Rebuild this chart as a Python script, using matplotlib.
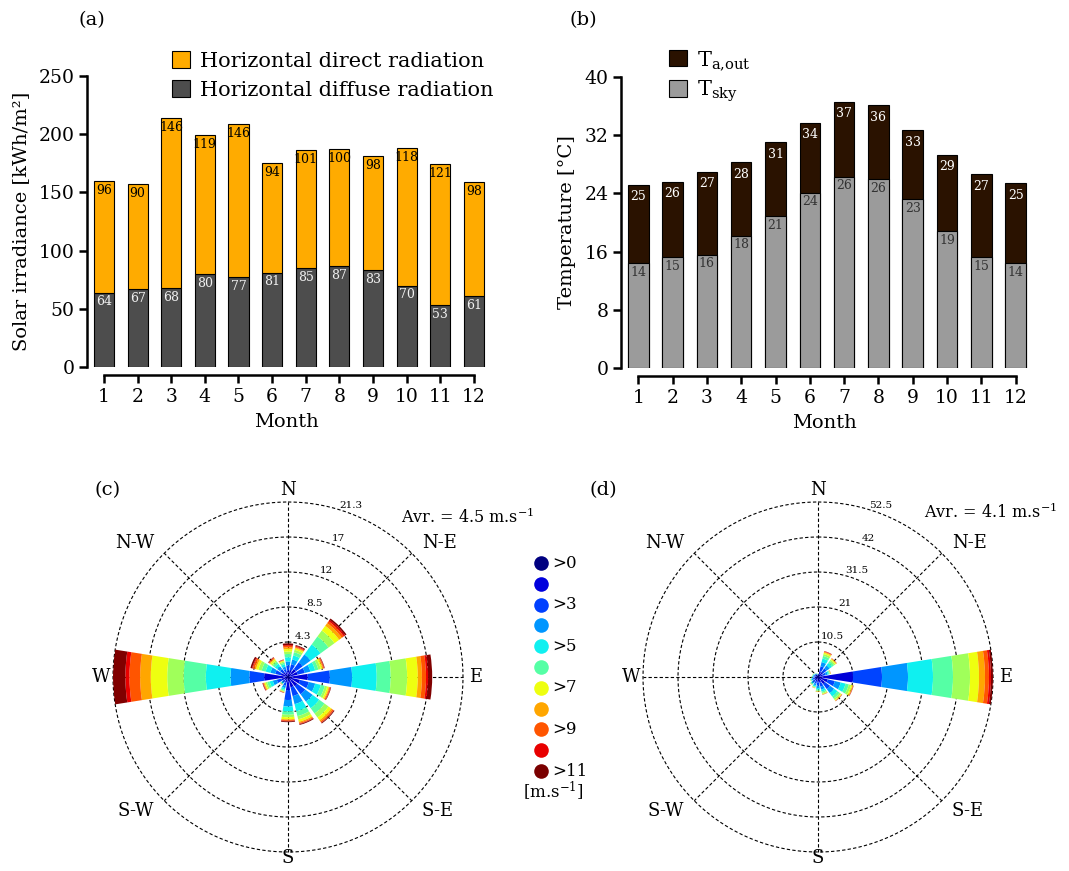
import numpy as np
import matplotlib
matplotlib.use('Agg')
import matplotlib.pyplot as plt

plt.rcParams['font.family'] = ['DejaVu Serif']
plt.rcParams['mathtext.fontset'] = 'dejavuserif'

# ---- data: (a) solar irradiance [kWh/m2] ----
months = np.arange(1, 13)
diffuse = [64, 67, 68, 80, 77, 81, 85, 87, 83, 70, 53, 61]
direct = [96, 90, 146, 119, 132, 94, 101, 100, 98, 118, 121, 98]
direct_labels = ['96', '90', '146', '119', '146', '94', '101', '100', '98', '118', '121', '98']

# ---- data: (b) temperatures [C] ----
t_out = [25.2, 25.6, 27.0, 28.3, 31.0, 33.7, 36.6, 36.1, 32.7, 29.3, 26.6, 25.4]
t_sky = [14.4, 15.2, 15.6, 18.2, 20.9, 24.1, 26.3, 26.0, 23.2, 18.8, 15.2, 14.4]

# ---- data: wind roses, 16 directions x 11 speed bins (segment lengths) ----
directions = np.arange(0, 360, 22.5)
dir_names = ['N', 'N-E', 'E', 'S-E', 'S', 'S-W', 'W', 'N-W']
speed_labels = ['>0', '', '>3', '', '>5', '', '>7', '', '>9', '', '>11']
legend_colors = ['#000080', '#0000dd', '#0040ff', '#0096ff', '#10f0f0', '#55ffa5',
                 '#eeff10', '#ffa600', '#ff5500', '#e80000', '#7a0000']
bar_colors = ['#0000d8', '#0044ff', '#0096ff', '#0ff0f0', '#55ffa5', '#a0ff5a',
              '#eeff10', '#ffa600', '#ff5500', '#e80000', '#800000']

rose_c = [
    [0.8, 0.6, 0.5, 0.5, 0.4, 0.3, 0.3, 0.2, 0.2, 0.1, 0.2],      # N
    [0.9, 0.7, 0.6, 0.5, 0.4, 0.3, 0.2, 0.1, 0.1, 0.1, 0.1],      # NNE
    [1.2, 1.0, 1.2, 1.5, 1.2, 0.9, 0.7, 0.4, 0.3, 0.2, 0.2],      # NE
    [1.2, 0.9, 0.7, 0.6, 0.4, 0.3, 0.2, 0.1, 0.1, 0.05, 0.05],    # ENE
    [2.4, 2.7, 2.7, 3.0, 1.7, 2.0, 1.3, 0.5, 0.5, 0.25, 0.5],     # E
    [1.5, 1.1, 0.8, 0.7, 0.5, 0.3, 0.2, 0.1, 0.1, 0.05, 0.05],    # ESE
    [1.4, 1.2, 1.1, 1.0, 0.8, 0.6, 0.4, 0.2, 0.15, 0.05, 0.1],    # SE
    [1.3, 1.1, 1.0, 0.9, 0.6, 0.4, 0.3, 0.15, 0.1, 0.05, 0.1],    # SSE
    [1.6, 1.2, 0.8, 0.6, 0.4, 0.3, 0.25, 0.1, 0.1, 0.05, 0.1],    # S
    [0.7, 0.4, 0.3, 0.2, 0.15, 0.1, 0.05, 0.03, 0.03, 0.02, 0.02],  # SSW
    [0.5, 0.3, 0.15, 0.1, 0.05, 0.04, 0.02, 0.01, 0.01, 0.01, 0.01],  # SW
    [0.8, 0.6, 0.5, 0.4, 0.3, 0.2, 0.15, 0.1, 0.05, 0.05, 0.05],  # WSW
    [2.9, 1.8, 2.3, 3.0, 2.7, 2.0, 2.0, 1.3, 1.3, 0.5, 1.5],      # W
    [0.9, 0.7, 0.6, 0.6, 0.5, 0.4, 0.3, 0.2, 0.2, 0.1, 0.2],      # WNW
    [0.7, 0.5, 0.4, 0.4, 0.3, 0.2, 0.2, 0.1, 0.1, 0.05, 0.05],    # NW
    [0.6, 0.4, 0.3, 0.3, 0.2, 0.15, 0.1, 0.05, 0.05, 0.02, 0.03],  # NNW
]
rose_d = [
    [0.5, 0.2, 0.1, 0.08, 0.05, 0.03, 0.02, 0.01, 0.005, 0.003, 0.002],
    [1.8, 1.5, 1.3, 1.1, 0.8, 0.6, 0.4, 0.2, 0.15, 0.1, 0.05],
    [1.8, 1.4, 1.1, 0.9, 0.7, 0.5, 0.3, 0.15, 0.1, 0.03, 0.02],
    [1.5, 0.9, 0.6, 0.4, 0.25, 0.15, 0.1, 0.04, 0.03, 0.02, 0.01],
    [10.5, 8.7, 7.8, 7.5, 6.0, 5.1, 2.7, 1.8, 1.2, 0.6, 0.6],
    [3.0, 2.2, 1.8, 1.5, 1.0, 0.7, 0.4, 0.2, 0.1, 0.05, 0.05],
    [2.6, 1.9, 1.5, 1.2, 0.8, 0.5, 0.25, 0.12, 0.07, 0.03, 0.03],
    [1.8, 1.2, 0.9, 0.6, 0.4, 0.3, 0.15, 0.08, 0.04, 0.02, 0.01],
    [1.6, 1.0, 0.7, 0.5, 0.3, 0.2, 0.1, 0.05, 0.02, 0.02, 0.01],
    [1.3, 0.8, 0.5, 0.4, 0.2, 0.15, 0.08, 0.04, 0.02, 0.01, 0.0],
    [1.2, 0.7, 0.4, 0.3, 0.2, 0.1, 0.05, 0.03, 0.01, 0.01, 0.0],
    [1.0, 0.6, 0.35, 0.25, 0.15, 0.08, 0.04, 0.02, 0.01, 0.0, 0.0],
    [0.9, 0.5, 0.25, 0.15, 0.1, 0.05, 0.03, 0.01, 0.01, 0.0, 0.0],
    [0.8, 0.4, 0.25, 0.15, 0.1, 0.05, 0.03, 0.01, 0.01, 0.0, 0.0],
    [0.7, 0.35, 0.2, 0.1, 0.07, 0.04, 0.02, 0.01, 0.01, 0.0, 0.0],
    [0.6, 0.3, 0.15, 0.07, 0.04, 0.02, 0.01, 0.005, 0.005, 0.0, 0.0],
]
rings_c = [4.26, 8.52, 12.78, 17.04, 21.3]
ring_labels_c = ['4.3', '8.5', '12', '17', '21.3']
rings_d = [10.5, 21, 31.5, 42, 52.5]
ring_labels_d = ['10.5', '21', '31.5', '42', '52.5']

W, H = 1069, 871
fig = plt.figure(figsize=(W / 100, H / 100), dpi=100)


def px_axes(x0, y0, x1, y1, **kw):
    # pixel box (top-left origin) -> figure fraction
    return fig.add_axes([x0 / W, 1 - y1 / H, (x1 - x0) / W, (y1 - y0) / H], **kw)


def style_bar_axes(ax):
    for s in ['top', 'right']:
        ax.spines[s].set_visible(False)
    ax.spines['left'].set_linewidth(1.8)
    ax.spines['bottom'].set_linewidth(1.8)
    ax.spines['bottom'].set_position(('outward', 6))
    ax.spines['bottom'].set_bounds(1, 12)
    ax.set_xticks(months)
    ax.tick_params(direction='out', length=6, width=1.8, labelsize=13.5, pad=3)
    ax.set_xlabel('Month', fontsize=14, labelpad=5)


# ---------- (a) ----------
axA = px_axes(87, 76, 486, 367)
b1 = axA.bar(months, diffuse, 0.6, color='#4d4d4d', edgecolor='black', lw=0.8)
b2 = axA.bar(months, direct, 0.6, bottom=diffuse, color='#ffab00', edgecolor='black', lw=0.8)
for m, d, t, lab in zip(months, diffuse, direct, direct_labels):
    axA.annotate(lab, (m, d + t), xytext=(0, -2), textcoords='offset points',
                 ha='center', va='top', fontsize=9, color='black')
    axA.annotate(str(d), (m, d), xytext=(0, -2), textcoords='offset points',
                 ha='center', va='top', fontsize=9, color='#f0f0f0')
axA.set_xlim(0.495, 12.36)
axA.set_ylim(0, 250)
axA.set_yticks(np.arange(0, 251, 50))
style_bar_axes(axA)
axA.set_ylabel('Solar irradiance [kWh/m²]', fontsize=14, labelpad=6)
axA.legend([b2, b1], ['Horizontal direct radiation', 'Horizontal diffuse radiation'],
           loc='upper left', bbox_to_anchor=(0.213, 1.085), frameon=False, fontsize=15,
           handlelength=0.85, handleheight=0.85, handletextpad=0.5, labelspacing=0.45,
           borderpad=0, borderaxespad=0)

# ---------- (b) ----------
axB = px_axes(621, 77, 1028, 368)
c1 = axB.bar(months, t_out, 0.6, color='#2a1200', edgecolor='black', lw=0.8)
c2 = axB.bar(months, t_sky, 0.6, color='#9b9b9b', edgecolor='black', lw=0.8)
for m, to, ts in zip(months, t_out, t_sky):
    axB.annotate(f'{to:.0f}', (m, to), xytext=(0, -4), textcoords='offset points',
                 ha='center', va='top', fontsize=9, color='white')
    axB.annotate(f'{ts:.0f}', (m, ts), xytext=(0, -2), textcoords='offset points',
                 ha='center', va='top', fontsize=9, color='#333333')
axB.set_xlim(0.496, 12.36)
axB.set_ylim(0, 40)
axB.set_yticks(np.arange(0, 41, 8))
style_bar_axes(axB)
axB.set_ylabel('Temperature [°C]', fontsize=14, labelpad=6)
axB.legend([c1, c2], [r'T$_{\mathrm{a{,}out}}$', r'T$_{\mathrm{sky}}$'],
           loc='upper left', bbox_to_anchor=(0.118, 1.095), frameon=False, fontsize=15,
           handlelength=0.85, handleheight=0.85, handletextpad=0.5, labelspacing=0.3,
           borderpad=0, borderaxespad=0)


# ---------- wind roses ----------
def wind_rose(cx, cy, radius, data, rings, ring_labels):
    ax = px_axes(cx - radius, cy - radius, cx + radius, cy + radius, projection='polar')
    ax.set_theta_zero_location('N')
    ax.set_theta_direction(-1)
    rmax = rings[-1]
    ax.set_ylim(0, rmax)
    ax.grid(False)
    ax.set_xticks([])
    ax.set_yticks([])
    ax.spines['polar'].set_visible(False)
    theta = np.deg2rad(directions)
    data = np.array(data)
    bottoms = np.zeros(len(directions))
    for k in range(data.shape[1]):
        ax.bar(theta, data[:, k], width=np.deg2rad(18), bottom=bottoms,
               color=bar_colors[k], edgecolor='none', zorder=3)
        bottoms += data[:, k]
    tt = np.linspace(0, 2 * np.pi, 500)
    for r, lab in zip(rings, ring_labels):
        ax.plot(tt, np.full_like(tt, r), ls=(0, (3, 2)), color='black', lw=0.8,
                zorder=2, clip_on=False)
        ax.text(np.deg2rad(20), r + rmax * 0.045, lab, fontsize=7.5,
                ha='center', va='center')
    for a in range(0, 360, 45):
        ax.plot([np.deg2rad(a)] * 2, [0, rmax], ls=(0, (3, 2)), color='black',
                lw=0.8, zorder=2, clip_on=False)
    for a, name in zip(range(0, 360, 45), dir_names):
        if a == 0:
            ax.text(0, rmax * 1.07, name, ha='center', va='center', fontsize=13)
        elif a == 180:
            ax.text(np.pi, rmax * 1.035, name, ha='center', va='center', fontsize=13)
        elif a in (90, 270):
            ax.text(np.deg2rad(a), rmax * 1.07, name, ha='center', va='center', fontsize=13)
        else:
            ha = 'left' if a < 180 else 'right'
            ax.text(np.deg2rad(a), rmax * 1.08, name, ha=ha, va='center', fontsize=13)
    return ax


wind_rose(288, 677, 175, rose_c, rings_c, ring_labels_c)
wind_rose(818, 677, 175, rose_d, rings_d, ring_labels_d)

fig.text(534 / W, 1 - 517 / H, r'Avr. = 4.5 m.s$^{-1}$', fontsize=11.5, ha='right', va='center')
fig.text(1057 / W, 1 - 512 / H, r'Avr. = 4.1 m.s$^{-1}$', fontsize=11.5, ha='right', va='center')

# speed legend
axL = px_axes(520, 550, 600, 805)
axL.set_xlim(520, 600)
axL.set_ylim(805, 550)
axL.axis('off')
for i, (col, lab) in enumerate(zip(legend_colors, speed_labels)):
    y = 563 + i * 20.8
    axL.plot(541, y, 'o', ms=10.5, color=col, mec='none')
    if lab:
        axL.text(552, y, lab, fontsize=12, ha='left', va='center')
axL.text(553, 791, r'[m.s$^{-1}$]', fontsize=12, ha='center', va='center')

# panel letters
for x, y, s in [(92, 20, '(a)'), (583, 20, '(b)'), (108, 490, '(c)'), (603, 490, '(d)')]:
    fig.text(x / W, 1 - y / H, s, fontsize=14, ha='center', va='center')

fig.savefig('out.png', dpi=100)
